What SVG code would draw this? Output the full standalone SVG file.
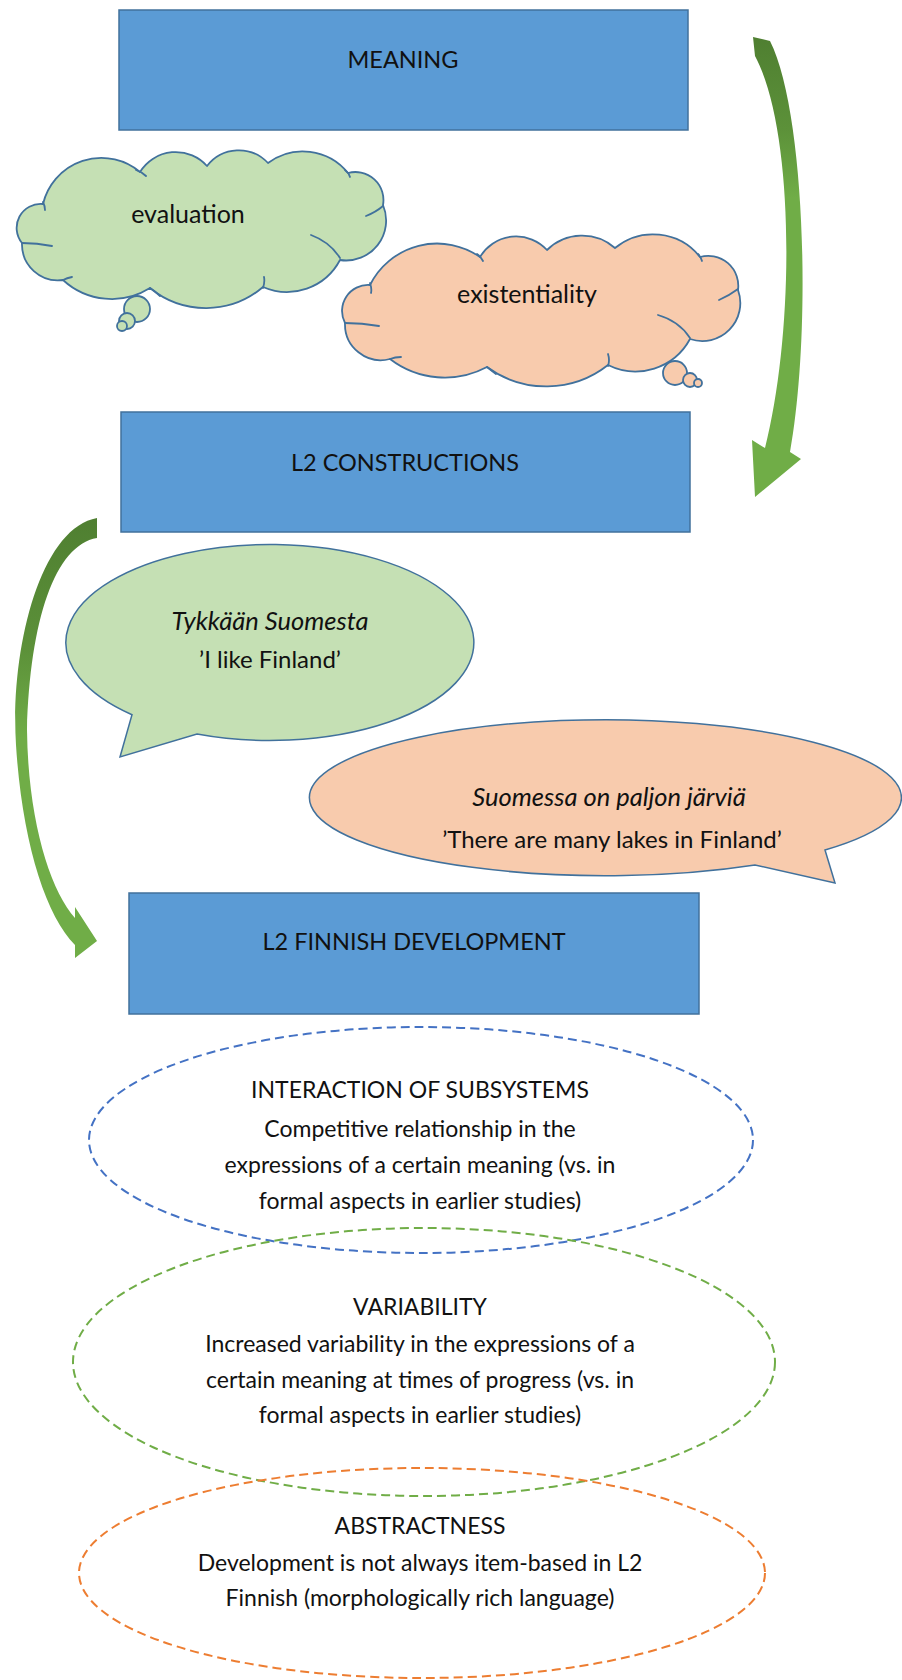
<svg xmlns="http://www.w3.org/2000/svg" width="902" height="1680" viewBox="0 0 902 1680">
  <style>
    text { font-family: Lato, "Open Sans", "Liberation Sans", sans-serif; fill: #111; text-anchor: middle; }
    .box { fill: #5B9BD5; stroke: #41719C; stroke-width: 1.5; }
    .lbl { font-size: 23.5px; }
    .cl { font-size: 25px; }
    .cloud-g { fill: #C5E0B4; stroke: #41719C; stroke-width: 1.8; stroke-linejoin: round; }
    .cloud-o { fill: #F8CBAD; stroke: #41719C; stroke-width: 1.8; stroke-linejoin: round; }
    .inner { fill: none; stroke: #41719C; stroke-width: 1.8; stroke-linecap: round; }
    .bubble-g { fill: #C5E0B4; stroke: #41719C; stroke-width: 1.5; }
    .bubble-o { fill: #F8CBAD; stroke: #41719C; stroke-width: 1.5; }
    .it { font-style: italic; font-size: 25.5px; }
    .tr { font-size: 24px; }
    .dash { fill: none; stroke-width: 2; stroke-dasharray: 9 5; }
    .ttl { font-size: 23px; }
    .body { font-size: 23px; }
  </style>
  <defs>
    <linearGradient id="arrowShadeR" x1="0" y1="0" x2="0" y2="1">
      <stop offset="0" stop-color="#4F7F31"/>
      <stop offset="0.2" stop-color="#5C9139"/>
      <stop offset="0.35" stop-color="#70AD47"/>
      <stop offset="1" stop-color="#70AD47"/>
    </linearGradient>
    <linearGradient id="arrowShadeL" x1="0" y1="0" x2="0" y2="1">
      <stop offset="0" stop-color="#4F7F31"/>
      <stop offset="0.3" stop-color="#5C9139"/>
      <stop offset="0.5" stop-color="#70AD47"/>
      <stop offset="1" stop-color="#70AD47"/>
    </linearGradient>
  </defs>

  <!-- curved arrows between the levels -->
  <g id="connectors">
    <path id="arrow-meaning-constructions" fill="url(#arrowShadeR)"
          d="M753,37 L770,41 C805,110 812,330 790,452 L801,459 L755,497 L752,440 L765,448 C795,330 795,130 755,56 Z"/>
    <path id="arrow-constructions-development" fill="url(#arrowShadeL)"
          d="M97,518 C40,528 10,650 16,745 C22,840 45,915 75,945 L75,958 L97,941 L75,907 L75,918 C50,890 28,820 27,730 C30,620 55,545 97,538 Z"/>
  </g>

  <!-- MEANING -->
  <g id="meaning">
    <rect class="box" x="119" y="10" width="569" height="120"/>
    <text class="lbl" x="403" y="68">MEANING</text>
  </g>

  <!-- thought cloud: evaluation -->
  <g id="cloud-evaluation">
    <circle class="cloud-g" cx="137" cy="309" r="13"/>
    <circle class="cloud-g" cx="127" cy="321" r="8"/>
    <circle class="cloud-g" cx="122" cy="326" r="5"/>
    <path class="cloud-g" d="M43,204 A60,60 0 0 1 140,172 A42,42 0 0 1 207,166 A40,40 0 0 1 268,163 A58,58 0 0 1 348,173 A28,28 0 0 1 383,205 A40,40 0 0 1 340,260 A60,60 0 0 1 263,287 A88,88 0 0 1 150,288 A72,72 0 0 1 63,280 A36,36 0 0 1 22,243 A24,24 0 0 1 43,204 Z"/>
    <path class="inner" d="M43,202 Q45,206 45,210 M136,170 Q142,172 146,176 M345,170 Q349,173 350,177 M383,206 Q376,212 366,216 M340,258 Q330,242 311,235 M263,288 Q265,282 264,277 M150,288 Q155,291 160,296 M63,280 Q67,278 72,277 M22,243 Q37,243 52,246"/>
    <text class="cl" x="188" y="223">evaluation</text>
  </g>

  <!-- thought cloud: existentiality -->
  <g id="cloud-existentiality">
    <circle class="cloud-o" cx="675" cy="373" r="12"/>
    <circle class="cloud-o" cx="690" cy="380" r="7"/>
    <circle class="cloud-o" cx="698" cy="383" r="4"/>
    <path class="cloud-o" d="M370,285 A75,75 0 0 1 480,257 A42,42 0 0 1 547,250 A50,50 0 0 1 615,248 A60,60 0 0 1 700,257 A30,30 0 0 1 738,290 A38,38 0 0 1 690,339 A62,62 0 0 1 608,365 A100,100 0 0 1 487,367 A90,90 0 0 1 390,359 A36,36 0 0 1 345,323 A26,26 0 0 1 370,285 Z"/>
    <path class="inner" d="M477,254 Q481,257 483,261 M698,254 Q701,257 702,261 M738,289 Q730,295 719,300 M690,338 Q679,321 658,315 M608,366 Q610,360 608,354 M487,367 Q492,371 496,374 M390,359 Q395,357 401,357 M345,323 Q362,323 379,326 M370,283 Q372,289 371,293"/>
    <text class="cl" x="527" y="303">existentiality</text>
  </g>

  <!-- L2 CONSTRUCTIONS -->
  <g id="l2-constructions">
    <rect class="box" x="121" y="412" width="569" height="120"/>
    <text class="lbl" x="405" y="471">L2 CONSTRUCTIONS</text>
  </g>

  <!-- speech bubble: evaluation example -->
  <g id="bubble-evaluation">
    <path class="bubble-g" d="M197,734 A204,98 0 1 0 132,714.7 L120,757 Z"/>
    <text class="it" x="270" y="630">Tykkään Suomesta</text>
    <text class="tr" x="270" y="668">’I like Finland’</text>
  </g>

  <!-- speech bubble: existential example -->
  <g id="bubble-existential">
    <path class="bubble-o" d="M825,850 A296,78 0 1 0 755,865 L835,883 Z"/>
    <text class="it" x="609" y="806">Suomessa on paljon järviä</text>
    <text class="tr" x="612" y="848">’There are many lakes in Finland’</text>
  </g>

  <!-- L2 FINNISH DEVELOPMENT -->
  <g id="l2-finnish-development">
    <rect class="box" x="129" y="893" width="570" height="121"/>
    <text class="lbl" x="414" y="950">L2 FINNISH DEVELOPMENT</text>
  </g>

  <!-- dashed findings -->
  <g id="interaction-of-subsystems">
    <ellipse class="dash" cx="421" cy="1140" rx="332" ry="113" stroke="#4472C4"/>
    <text class="ttl" x="420" y="1098">INTERACTION OF SUBSYSTEMS</text>
    <text class="body" x="420" y="1137">Competitive relationship in the</text>
    <text class="body" x="420" y="1173">expressions of a certain meaning (vs. in</text>
    <text class="body" x="420" y="1209">formal aspects in earlier studies)</text>
  </g>

  <g id="variability">
    <ellipse class="dash" cx="424" cy="1362" rx="351" ry="134" stroke="#70AD47"/>
    <text class="ttl" x="420" y="1315">VARIABILITY</text>
    <text class="body" x="420" y="1352">Increased variability in the expressions of a</text>
    <text class="body" x="420" y="1388">certain meaning at times of progress (vs. in</text>
    <text class="body" x="420" y="1423">formal aspects in earlier studies)</text>
  </g>

  <g id="abstractness">
    <ellipse class="dash" cx="422" cy="1573" rx="343" ry="105" stroke="#ED7D31"/>
    <text class="ttl" x="420" y="1534">ABSTRACTNESS</text>
    <text class="body" x="420" y="1571">Development is not always item-based in L2</text>
    <text class="body" x="420" y="1606">Finnish (morphologically rich language)</text>
  </g>
</svg>
